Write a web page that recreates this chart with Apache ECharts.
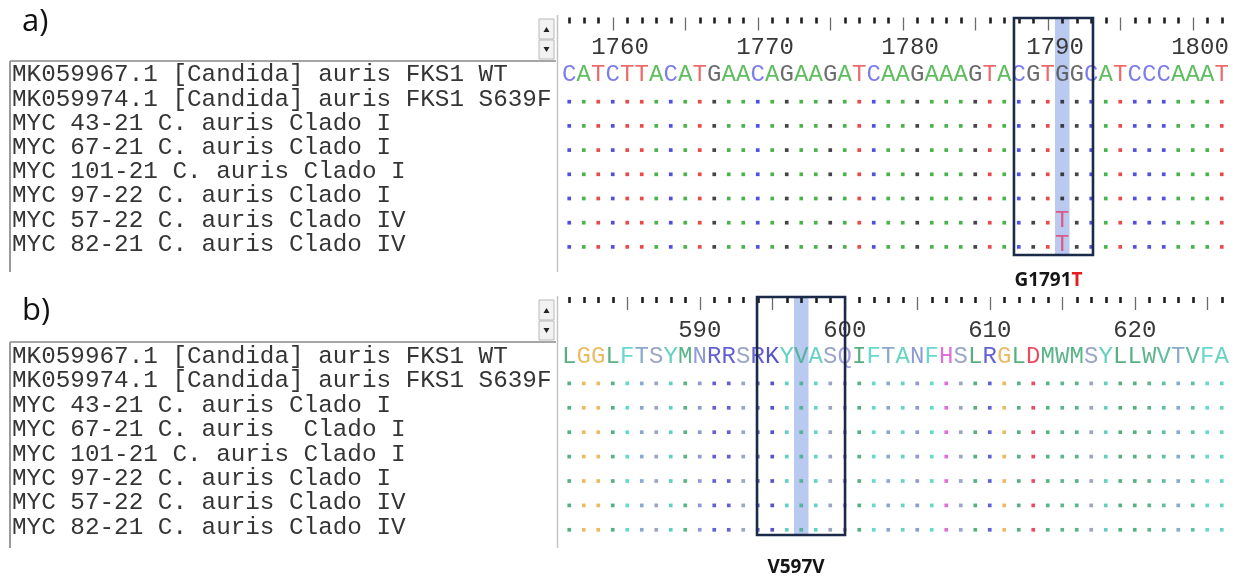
<!DOCTYPE html>
<html>
<head>
<meta charset="utf-8">
<title>FKS1 alignment</title>
<script src="https://cdn.jsdelivr.net/npm/echarts@6.0.0/dist/echarts.min.js"></script>
<style>
html, body { margin: 0; padding: 0; background: #fff; }
#main { width: 1237px; height: 579px; }
</style>
</head>
<body>
<div id="main"></div>
<script>
// sequence names (one row each)
var namesA = [
    'MK059967.1 [Candida] auris FKS1 WT',
    'MK059974.1 [Candida] auris FKS1 S639F',
    'MYC 43-21 C. auris Clado I',
    'MYC 67-21 C. auris Clado I',
    'MYC 101-21 C. auris Clado I',
    'MYC 97-22 C. auris Clado I',
    'MYC 57-22 C. auris Clado IV',
    'MYC 82-21 C. auris Clado IV'
];
var namesB = [
    'MK059967.1 [Candida] auris FKS1 WT',
    'MK059974.1 [Candida] auris FKS1 S639F',
    'MYC 43-21 C. auris Clado I',
    'MYC 67-21 C. auris  Clado I',
    'MYC 101-21 C. auris Clado I',
    'MYC 97-22 C. auris Clado I',
    'MYC 57-22 C. auris Clado IV',
    'MYC 82-21 C. auris Clado IV'
];

// a) nucleotides, first column = position 1757, '.' = same as first row
var startA = 1757;
var seqA = [
    'CATCTTACATGAACAGAAGATCAAGAAAGTACGTGGCATCCCAAAT',
    '..............................................',
    '..............................................',
    '..............................................',
    '..............................................',
    '..............................................',
    '..................................T...........',
    '..................................T...........'
];
// b) amino acids, first column = position 581
var startB = 581;
var seqB = [
    'LGGLFTSYMNRRSRKYVASQIFTANFHSLRGLDMWMSYLLWVTVFA',
    '..............................................',
    '..............................................',
    '..............................................',
    '..............................................',
    '..............................................',
    '..............................................',
    '..............................................'
];

// highlighted column and framed range (positions)
var markA = { col: 1791, box: [1787.67, 1793.12], text: '{a|G1791}{b|T}' };
var markB = { col: 597, box: [593.95, 600.02], text: '{a|V597V}' };

var ntText = { A: '#38ad38', C: '#5b5be6', G: '#474747', T: '#e84545' };
var ntDot = { A: '#1f9f1f', C: '#2626d8', G: '#161616', T: '#e41d1d' };
var aaColor = {
    L: '#2e9c62', I: '#2e9c62', M: '#30a268', V: '#3aae88', W: '#3aa070',
    G: '#e6aa3c', F: '#3ecfc2', Y: '#3cc3b2', A: '#40c8b4', T: '#6c94c0',
    S: '#8290b8', N: '#7282c8', Q: '#8c8cd4', R: '#3a3ac8', K: '#2a2ab4',
    H: '#d24ccc', D: '#e2203c'
};
var mutColor = '#e5406c';
var MONO = 'Liberation Mono';

function cats(start, len) {
    var out = [];
    for (var i = 0; i < len; i++) out.push(String(start + i));
    return out;
}

function cellData(seqs, textColor, dotColor, varColor) {
    var letters = [], dots = [];
    var ref = seqs[0];
    seqs.forEach(function (s, r) {
        s.split('').forEach(function (ch, i) {
            if (ch === '.') {
                dots.push({ value: [i, r], itemStyle: { color: dotColor[ref[i]] } });
            } else {
                letters.push({ value: [i, r], name: ch, label: { color: r === 0 ? textColor[ch] : varColor } });
            }
        });
    });
    return { letters: letters, dots: dots };
}

function rulerAxes(grid, start, len, offset, labelMargin, labelPad) {
    var data = cats(start, len);
    var isMajor = function (i) { return (start + i) % 5 === 0; };
    return [{
        gridIndex: grid, type: 'category', data: data, position: 'top', offset: offset, z: 3,
        axisLine: { show: false },
        axisTick: {
            show: true, inside: true, alignWithLabel: true, length: 13,
            interval: function (i) { return isMajor(i); },
            lineStyle: { color: '#6a6a6a', width: 1.3 }
        },
        axisLabel: {
            show: true, inside: true, margin: labelMargin, verticalAlign: 'middle',
            interval: function (i) { return (start + i) % 10 === 0; },
            fontFamily: MONO, fontSize: 24, color: '#383838', padding: labelPad
        },
        splitLine: { show: false }
    }, {
        gridIndex: grid, type: 'category', data: data, position: 'top', offset: offset, z: 3,
        axisLine: { show: false },
        axisTick: {
            show: true, inside: true, alignWithLabel: true, length: 6,
            interval: function (i) { return !isMajor(i); },
            lineStyle: { color: '#1e1e1e', width: 2.6 }
        },
        axisLabel: { show: false },
        splitLine: { show: false }
    }];
}

function nameAxis(grid, names) {
    return {
        gridIndex: grid, type: 'category', data: names, inverse: true,
        axisLine: { show: false }, axisTick: { show: false }, splitLine: { show: false },
        axisLabel: {
            interval: 0, margin: 550, align: 'left',
            fontFamily: MONO, fontSize: 24.3, color: '#353535'
        }
    };
}

function cellSeries(axisX, axisY, d) {
    return [{
        type: 'scatter', xAxisIndex: axisX, yAxisIndex: axisY, data: d.letters,
        symbolSize: 2, itemStyle: { color: 'rgba(0,0,0,0)' }, silent: true, z: 4,
        label: { show: true, position: 'inside', formatter: '{b}', fontFamily: MONO, fontSize: 24 }
    }, {
        type: 'scatter', xAxisIndex: axisX, yAxisIndex: axisY, data: d.dots,
        symbol: 'rect', symbolSize: 3.7, symbolOffset: [0, 2.5], silent: true, z: 4
    }];
}

var dataA = cellData(seqA, ntText, ntDot, mutColor);
var dataB = cellData(seqB, aaColor, aaColor, mutColor);

var myChart = echarts.init(document.getElementById('main'));
var option = {
    backgroundColor: '#ffffff',
    animation: false,
    grid: [
        { left: 562, top: 62.9, width: 667, height: 193.6, outerBoundsMode: 'none' },
        { left: 562, top: 344.3, width: 667, height: 195.2, outerBoundsMode: 'none' }
    ],
    xAxis: rulerAxes(0, startA, seqA[0].length, 45.4, 30.5, [0, 0, 0, 14.5])
        .concat(rulerAxes(1, startB, seqB[0].length, 47.3, 33.5, 0)),
    yAxis: [nameAxis(0, namesA), nameAxis(1, namesB)],
    series: cellSeries(0, 0, dataA).concat(cellSeries(2, 1, dataB))
};
myChart.setOption(option);

// panel frames, scroll buttons, highlight column and box
function frame(dy, bottom) {
    return [
        { type: 'line', shape: { x1: 10, y1: 61 + dy, x2: 556, y2: 61 + dy }, style: { stroke: '#a6a6a6', lineWidth: 2 } },
        { type: 'line', shape: { x1: 10, y1: 61 + dy, x2: 10, y2: bottom }, style: { stroke: '#9a9a9a', lineWidth: 2 } },
        { type: 'line', shape: { x1: 557.5, y1: 15 + dy, x2: 557.5, y2: bottom }, style: { stroke: '#c4c4c4', lineWidth: 1.5 } },
        { type: 'rect', shape: { x: 539, y: 19 + dy, width: 15, height: 20 }, style: { fill: '#f2f2f2', stroke: '#b8b8b8', lineWidth: 1 } },
        { type: 'rect', shape: { x: 539, y: 40 + dy, width: 15, height: 19 }, style: { fill: '#f2f2f2', stroke: '#b8b8b8', lineWidth: 1 } },
        { type: 'polygon', shape: { points: [[543.5, 32 + dy], [549.5, 32 + dy], [546.5, 27 + dy]] }, style: { fill: '#222' } },
        { type: 'polygon', shape: { points: [[543.5, 47 + dy], [549.5, 47 + dy], [546.5, 52 + dy]] }, style: { fill: '#222' } }
    ];
}

function marker(axisIdx, start, mark, top, bottom, labelY) {
    var c0 = myChart.convertToPixel({ xAxisIndex: axisIdx }, 0);
    var w = myChart.convertToPixel({ xAxisIndex: axisIdx }, 1) - c0;
    var px = function (pos) { return c0 + (pos - start) * w; };
    var x1 = px(mark.box[0]), x2 = px(mark.box[1]);
    var font = { fontFamily: 'Noto Sans', fontWeight: 'bold', fontSize: 19 };
    return [
        { type: 'rect', z: 1, shape: { x: px(mark.col) - w / 2, y: top, width: w, height: bottom - top }, style: { fill: '#b9c9ef' } },
        { type: 'rect', z: 100, shape: { x: x1, y: top, width: x2 - x1, height: bottom - top }, style: { fill: 'none', stroke: '#1b2a48', lineWidth: 2.6 } },
        {
            type: 'text', z: 100, x: (x1 + x2) / 2 - 5, y: labelY,
            style: {
                text: mark.text, align: 'center', verticalAlign: 'middle',
                fontFamily: font.fontFamily, fontWeight: font.fontWeight, fontSize: font.fontSize,
                rich: {
                    a: echarts.util.extend({ fill: '#151515' }, font),
                    b: echarts.util.extend({ fill: '#e41e1e' }, font)
                }
            }
        }
    ];
}

var elements = []
    .concat(frame(0, 272))
    .concat(frame(281, 548))
    .concat(marker(0, startA, markA, 18, 255, 281))
    .concat(marker(2, startB, markB, 297, 535, 568))
    .concat([
        { type: 'text', x: 22, y: 22, style: { text: 'a)', fontFamily: 'Open Sans', fontSize: 31, fill: '#111', verticalAlign: 'middle' } },
        { type: 'text', x: 22, y: 311, style: { text: 'b)', fontFamily: 'Open Sans', fontSize: 31, fill: '#111', verticalAlign: 'middle' } }
    ]);
myChart.setOption({ graphic: elements });

window.addEventListener('resize', function () {
    myChart.resize();
});
</script>
</body>
</html>
